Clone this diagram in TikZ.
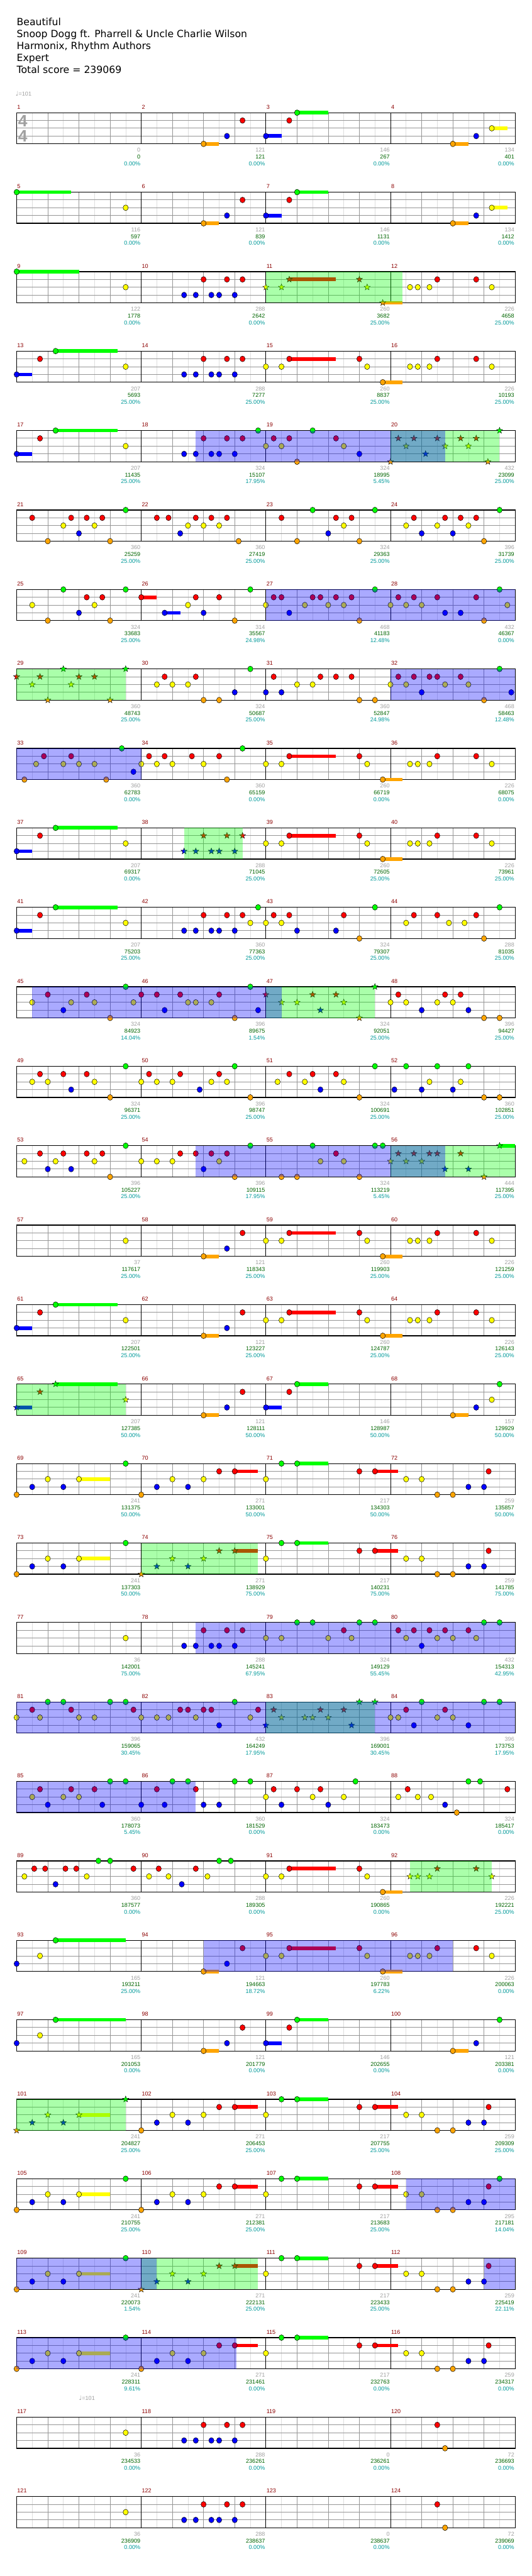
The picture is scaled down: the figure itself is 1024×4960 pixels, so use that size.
\documentclass[tikz,border=0pt]{standalone}
\usepackage{fontspec}
\setmainfont{DejaVu Sans}
\newfontfamily\numfont{Liberation Sans}
\newfontfamily\symfont{DejaVu Sans}
\usetikzlibrary{shapes.geometric}
\definecolor{ln0}{RGB}{0,255,0}
\definecolor{ln1}{RGB}{255,0,0}
\definecolor{ln2}{RGB}{255,255,0}
\definecolor{ln3}{RGB}{0,0,255}
\definecolor{ln4}{RGB}{255,165,0}
\definecolor{mnumc}{RGB}{139,0,0}
\definecolor{grayc}{RGB}{160,160,160}
\definecolor{greenc}{RGB}{0,100,0}
\definecolor{tealc}{RGB}{0,153,153}
\definecolor{gridl}{RGB}{222,222,222}
\definecolor{gridb}{RGB}{150,150,150}
\tikzset{
  notestyle/.style={draw=black,line width=0.6pt},
  starstyle/.style={star,star points=5,star point ratio=2.4,minimum size=12.5pt,inner sep=0pt,draw=black,line width=0.5pt},
  numtxt/.style={font=\numfont\fontsize{11}{12}\selectfont,inner sep=0pt},
  headtxt/.style={font=\fontsize{19}{22}\selectfont,inner sep=0pt,anchor=base west},
  eighthline/.style={draw=gridl,line width=0.8pt},
  beatline/.style={draw=gridb,line width=1pt},
  laneline/.style={draw=gridb,line width=1.2pt},
  barline/.style={draw=black,line width=1pt},
  staffborder/.style={draw=black,line width=1.5pt}
}
\newcommand\notes[2]{%
  \edef\tmplist{#2}%
  \foreach \pos/\lane/\sus in \tmplist {%
    \pgfmathsetmacro\nx{32+\pos*15}%
    \pgfmathsetmacro\ny{217+153*#1+15*\lane}%
    \ifdim\sus pt>0pt \fill[fill=ln\lane] (\nx,\ny-3.5) rectangle ({32+(\pos+\sus)*15},\ny+3.5);\fi
    \draw[notestyle,fill=ln\lane] (\nx,\ny) ellipse [x radius=5,y radius=5.5];
  }}
\newcommand\stars[2]{%
  \edef\tmplist{#2}%
  \foreach \pos/\lane/\sus in \tmplist {%
    \pgfmathsetmacro\nx{32+\pos*15}%
    \pgfmathsetmacro\ny{217+153*#1+15*\lane}%
    \ifdim\sus pt>0pt \fill[fill=ln\lane] (\nx,\ny-3.5) rectangle ({32+(\pos+\sus)*15},\ny+3.5);\fi
    \node[starstyle,fill=ln\lane] at (\nx,\ny) {};
  }}
\newcommand\region[4]{%
  \fill[fill=#4,fill opacity=0.333] ({32+#2*15},{217+153*#1}) rectangle ({32+#3*15},{277+153*#1});}
\newcommand\nums[2]{%
  \foreach \va/\vb/\vc [count=\j] in {#2} {%
    \pgfmathsetmacro\nx{30.5+\j*240}%
    \pgfmathsetmacro\ny{217+153*#1}%
    \node[numtxt,text=grayc,anchor=base east] at (\nx,\ny+76) {\va};
    \node[numtxt,text=greenc,anchor=base east] at (\nx,\ny+89) {\vb};
    \node[numtxt,text=tealc,anchor=base east] at (\nx,\ny+102) {\vc\%};
  }}
\def\PA{21.5/3/0,23/3/0,24/1/0,25/3/0,26/3/0,27/1/0,28/3/0,29/1/0}
\def\PB{32/2/0,34/2/0,35/1/6,44/1/0,45/2/0,47/4/2.5,50.5/2/0,51.5/2/0,53/2/0,54/1/0,59/1/0,61/2/0}
\def\PC{0/3/2,3/1/0,5/0/8,14/2/0}
\def\PDa{0/4/0,2/3/0,4/2/0,6/3/0,8/2/4,14/0/0}
\def\PDb{16/4/0,18/3/0,20/2/0,22/3/0,24/2/0,26/1/0,28/1/3}
\def\PDc{32/2/0,34/0/0,36/0/4,44/1/0,46/1/3,50/2/0,52/2/0,54/4/0,56/4/0,58/3/0,60/3/0,60.6/1/0}
\def\PE{24/4/2,27/3/0,29/1/0}
\def\PF{32/3/2,35/1/0,36/0/4,56/4/2,59/3/0}
\begin{document}
\begin{tikzpicture}[x=1pt,y=-1pt]
\path[use as bounding box] (0,0) rectangle (1024,4960);
% header
\node[headtxt] (title) at (32,49) {Beautiful};
\node[headtxt] (artist) at (32,72) {Snoop Dogg ft. Pharrell \& Uncle Charlie Wilson};
\node[headtxt] (charter) at (32,95) {Harmonix, Rhythm Authors};
\node[headtxt] (diff) at (32,118) {Expert};
\node[headtxt] (total) at (32,141) {Total score = 239069};
\node[anchor=west,inner sep=0pt,text=grayc] (tempoA) at (30,180) {{\symfont\fontsize{12}{12}\selectfont ♩}{\numfont\fontsize{11}{12}\selectfont =101}};
\node[anchor=west,inner sep=0pt,text=grayc] (tempoB) at (152,4617) {{\symfont\fontsize{12}{12}\selectfont ♩}{\numfont\fontsize{11}{12}\selectfont =101}};
% staves
\foreach \k in {0,...,30} {
  \pgfmathsetmacro\Y{217+153*\k}
  \foreach \i in {1,3,...,31} \draw[eighthline] ({32+\i*30},\Y) -- ++(0,60);
  \foreach \i in {1,2,3,5,6,7,9,10,11,13,14,15} \draw[beatline] ({32+\i*60},\Y) -- ++(0,60);
  \foreach \l in {1,2,3} \draw[laneline] (32,\Y+15*\l) -- (992,\Y+15*\l);
  \foreach \i in {1,2,3} \draw[barline] ({32+\i*240},\Y) -- ++(0,60);
  \draw[staffborder] (32,\Y) rectangle (992,\Y+60);
  \foreach \j in {0,...,3} {
    \pgfmathtruncatemacro\m{4*\k+\j+1}
    \node[numtxt,text=mnumc,anchor=base west] (m\m) at ({33+\j*240},\Y-7) {\m};
  }
}
\node[text=grayc,inner sep=0pt,font=\numfont\bfseries\fontsize{32}{32}\selectfont] (tsA) at (44,233) {4};
\node[text=grayc,inner sep=0pt,font=\numfont\bfseries\fontsize{32}{32}\selectfont] (tsB) at (44,262) {4};
% notes
\notes{0}{\PE,\PF,61/2/2}
\notes{1}{0/0/7,14/2/0,\PE,\PF,61/2/2}
\notes{2}{0/0/8,14/2/0,\PA,50.5/2/0,51.5/2/0,53/2/0,54/1/0,59/1/0,61/2/0}
\stars{2}{32/2/0,34/2/0,35/1/6,44/1/0,45/2/0,47/4/2.5}
\notes{3}{\PC,\PA,\PB}
\notes{4}{\PC,\PA,31/0/0,32/2/0,33/1/0,34/2/0,35/1/0,36/4/0,38/0/0,41/1/0,42/2/0,44/3/0}
\stars{4}{48/4/0,49/1/0,50/2/0,51/1/0,52.5/3/0,54/1/0,55/2/0,57/1/0,58/2/0,59/1/0,60.5/4/0,62/0/0}
\notes{5}{2/1/0,4/4/0,6/2/0,7/1/0,8/3/0,9/1/0,10/2/0,11/1/0,12/4/0,14/0/0,18/1/0,19.5/1/0,21/3/0,22/2/0,23/1/0,24/2/0,25/1/0,26/2/0,27/1/0,28.5/4/0,34/1/0,36/4/0,38/0/0,40/3/0,41/1/0,42/2/0,43/1/0,44/4/0,46/0/0,50/2/0,51/1/0,52/3/0,54/2/0,55/1/0,56/3/0,57/1/0,58/2/0,59/1/0,60/4/0,62/0/0}
\notes{6}{2/2/0,4/4/0,6/0/0,8/3/0,9/1/0,10/2/0,11/1/0,12/4/0,14/0/0,16/1/2,19/3/2,22/2/0,23/1/0,24/3/0,26/1/0,28/4/0,30/0/0,32/2/0,33/1/0,34/1/0,35/3/0,37/2/0,38/1/0,39/1/0,40/2/0,41/1/0,42/2/0,43/1/0,44/4/0,46/0/0,48/2/0,49/1/0,50/2/0,51/1/0,52/2/0,54/1/0,55/3/0,57/3/0,59/1/0,60/4/0,62/0/0,63/2/0}
\stars{7}{0/1/0,2/2/0,3/1/0,4/4/0,6/0/0,7/2/0,8/1/0,10/1/0,12/4/0,14/0/0}
\notes{7}{18/2/0,19/1/0,20/2/0,22/2/0,23/1/0,24/4/0,26/4/0,28/3/0,30/0/0,32/3/0,33/1/0,34/3/0,36/2/0,38/2/0,39/1/0,41/1/0,43/1/0,44/4/0,46/4/0,48/2/0,49/1/0,50/2/0,51/1/0,52/3/0,53/1/0,54/1/0,55/2/0,57/1/0,58/2/0,60/4/0,62/0/0,63.5/3/0}
\notes{8}{1/4/0,2.5/2/0,3.5/1/0,6/2/0,7/1/0,8/2/0,10/2/0,11.5/4/0,13.5/0/0,15/3/0,16/2/0,17/1/0,18/2/0,19/1/0,20/2/0,22.5/1/0,24/2/0,26/1/0,27/4/0,29/0/0,\PB}
\notes{9}{\PC,\PB}
\stars{9}{\PA}
\notes{10}{\PC,\PA,30/2/0,31/0/0,32/2/0,33/1/0,34/2/0,35/1/0,36/3/0,41/3/0,42/1/0,44/4/0,46/0/0,50/2/0,51/1/0,54/1/0,55.5/2/0,57.5/2/0,59/1/0,60/4/0,62/0/0}
\notes{11}{2/2/0,4/1/0,6/3/0,7/2/0,9/1/0,10/2/0,12/4/0,14/0/0,15/2/0,16/1/0,18/1/0,19/3/0,21/1/0,22/2/0,23/2/0,25/2/0,26/1/0,28/4/0,30/0/0,31/3/0,48/2/0,49/1/0,50/2/0,52/3/0,54/2/0,55/1/0,56/2/0,57/1/0,58/3/0,60/4/0,62/4/0}
\stars{11}{32/1/0,34/2/0,36/2/0,38/1/0,39/3/0,41/1/0,42/2/0,44/4/0,46/0/0}
\notes{12}{2/2/0,3/1/0,4/2/0,6/1/0,7/3/0,9/1/0,10/2/0,12/4/0,14/0/0,16/2/0,17/1/0,18/2/0,20/2/0,21/1/0,23.5/3/0,25/2/0,26/1/0,27/2/0,28/0/0,30/4/0,33.5/2/0,35/1/0,37/2/0,38/1/0,39/3/0,41/1/0,42/2/0,44/4/0,46/0/0,48.5/3/0,50/0/0,52/3/0,53/2/0,54/0/0,56/3/0,57/2/0,58/0/0,60/4/0,62/4/0}
\notes{13}{1/2/0,3/1/0,4/3/0,5/2/0,6/1/0,7/3/0,9/1/0,10/2/0,11/1/0,12/4/0,14/0/0,16/2/0,18/2/0,20/2/0,21/1/0,23/1/0,24/3/0,25/1/0,26/2/0,27/1/0,28/4/0,30/0/0,34/4/0,36/4/0,38/0/0,39/2/0,41/1/0,42/2/0,44/4/0,46/0/0,47/0/0}
\stars{13}{48/2/0,49/1/0,50/2/0,51/1/0,52/2/0,53/1/0,54/1/0,55/3/0,57/1/0,58/3/0,60/4/0,62/0/2}
\notes{14}{14/2/0,\PE,\PB}
\notes{15}{\PC,\PE,\PB}
\stars{16}{\PC}
\notes{16}{\PE,\PF,61/2/0,62/0/0}
\notes{17}{\PDa,\PDb,\PDc}
\notes{18}{\PDa,\PDc}
\stars{18}{\PDb}
\notes{19}{14/2/0,\PA,32/2/0,34/2/0,36/0/0,38/0/0,40/2/0,42/1/0,43/2/0,44/0/0,46/0/0,49/1/0,50/2/0,51/1/0,52/3/0,53/1/0,54/2/0,55/1/0,56/2/0,58/1/0,59/2/0,60/0/0,62/0/0}
\notes{20}{0/2/0,2/1/0,3/2/0,4/0/0,6/0/0,7/1/0,8/2/0,10/2/0,12/0/0,14/0/0,15/1/0,16/2/0,18/2/0,19.5/2/0,21/1/0,22/1/0,23/2/0,24/1/0,25/1/0,26/3/0,28/0/0,30/2/0,31/1/0,48/2/0,49/2/0,50/1/0,51/3/0,52/0/0,54/2/0,55/1/0,56/2/0,58/3/0,60/0/0,62/0/0}
\stars{20}{32/3/0,33/1/0,34/2/0,37/2/0,38/2/0,39/1/0,40/2/0,42/1/0,43/3/0,44/0/0,46/0/0}
\notes{21}{2/2/0,3/1/0,4/3/0,6/2/0,7/1/0,8/2/0,10/1/0,11/3/0,12/0/0,14/0/0,16/3/0,18/1/0,19/3/0,20/0/0,22/0/0,23/1/0,24/3/0,26/3/0,28/0/0,30/0/0,32/2/0,33/1/0,34/3/0,36/1/0,38/2/0,39/1/0,40/3/0,42/2/0,43.5/0/0,49/2/0,50.2/1/0,51.5/2/0,53.2/2/0,55/3/0,56.5/4/0,58/0/0,59.5/0/0,63/1/0}
\notes{22}{1/2/0,2.26/1/0,3.66/1/0,5/3/0,6.27/1/0,7.66/1/0,9/2/0,10.5/0/0,12/0/0,15/1/0,17/2/0,18.24/1/0,19.5/2/0,21.2/3/0,23/1/0,24.5/2/0,26/0/0,27.5/0/0,32/2/0,34/2/0,35/1/6,44/1/0,45/2/0,47/4/2.5}
\stars{22}{50.5/2/0,51.5/2/0,53/2/0,54/1/0,59/1/0,61/2/0}
\notes{23}{0/3/0,3/2/0,5/0/9,\PE,\PB}
\notes{24}{0/3/0,3/2/0,5/0/9,\PE,\PF,62/0/0}
\stars{25}{\PDa}
\notes{25}{\PDb,\PDc}
\notes{26}{\PDa,\PDb,\PDc,62/0/0}
\notes{27}{\PDa,\PDc}
\stars{27}{\PDb}
\notes{28}{\PDa,\PDb,\PDc}
\notes{29}{14/2/0,\PA,54/1/0,55/4/0}
\notes{30}{14/2/0,\PA,54/1/0,55/4/0}
% star power phrases and activations
\region{2}{32}{49.5}{ln0}
\region{4}{48}{62}{ln0}
\region{4}{23}{55}{ln3}
\region{6}{32}{64}{ln3}
\region{7}{0}{14}{ln0}
\region{7}{48}{64}{ln3}
\region{8}{0}{16}{ln3}
\region{9}{21.5}{29}{ln0}
\region{11}{32}{46}{ln0}
\region{11}{2}{34}{ln3}
\region{13}{48}{64}{ln0}
\region{13}{23}{55}{ln3}
\region{16}{0}{14}{ln0}
\region{18}{16}{31}{ln0}
\region{19}{23}{64}{ln3}
\region{20}{32}{46}{ln0}
\region{20}{0}{64}{ln3}
\region{21}{0}{23}{ln3}
\region{22}{50.5}{61}{ln0}
\region{23}{24}{56}{ln3}
\region{25}{0}{14}{ln0}
\region{26}{50}{64}{ln3}
\region{27}{16}{31}{ln0}
\region{27}{0}{18}{ln3}
\region{27}{60}{64}{ln3}
\region{28}{0}{28.2}{ln3}
% scores
\nums{0}{0/0/0.00,121/121/0.00,146/267/0.00,134/401/0.00}
\nums{1}{116/597/0.00,121/839/0.00,146/1131/0.00,134/1412/0.00}
\nums{2}{122/1778/0.00,288/2642/0.00,260/3682/25.00,226/4658/25.00}
\nums{3}{207/5693/25.00,288/7277/25.00,260/8837/25.00,226/10193/25.00}
\nums{4}{207/11435/25.00,324/15107/17.95,324/18995/5.45,432/23099/25.00}
\nums{5}{360/25259/25.00,360/27419/25.00,324/29363/25.00,396/31739/25.00}
\nums{6}{324/33683/25.00,314/35567/24.98,468/41183/12.48,432/46367/0.00}
\nums{7}{360/48743/25.00,324/50687/25.00,360/52847/24.98,468/58463/12.48}
\nums{8}{360/62783/0.00,360/65159/0.00,260/66719/0.00,226/68075/0.00}
\nums{9}{207/69317/0.00,288/71045/25.00,260/72605/25.00,226/73961/25.00}
\nums{10}{207/75203/25.00,360/77363/25.00,324/79307/25.00,288/81035/25.00}
\nums{11}{324/84923/14.04,396/89675/1.54,324/92051/25.00,396/94427/25.00}
\nums{12}{324/96371/25.00,396/98747/25.00,324/100691/25.00,360/102851/25.00}
\nums{13}{396/105227/25.00,396/109115/17.95,324/113219/5.45,444/117395/25.00}
\nums{14}{37/117617/25.00,121/118343/25.00,260/119903/25.00,226/121259/25.00}
\nums{15}{207/122501/25.00,121/123227/25.00,260/124787/25.00,226/126143/25.00}
\nums{16}{207/127385/50.00,121/128111/50.00,146/128987/50.00,157/129929/50.00}
\nums{17}{241/131375/50.00,271/133001/50.00,217/134303/50.00,259/135857/50.00}
\nums{18}{241/137303/50.00,271/138929/75.00,217/140231/75.00,259/141785/75.00}
\nums{19}{36/142001/75.00,288/145241/67.95,324/149129/55.45,432/154313/42.95}
\nums{20}{396/159065/30.45,432/164249/17.95,396/169001/30.45,396/173753/17.95}
\nums{21}{360/178073/5.45,360/181529/0.00,324/183473/0.00,324/185417/0.00}
\nums{22}{360/187577/0.00,288/189305/0.00,260/190865/0.00,226/192221/25.00}
\nums{23}{165/193211/25.00,121/194663/18.72,260/197783/6.22,226/200063/0.00}
\nums{24}{165/201053/0.00,121/201779/0.00,146/202655/0.00,121/203381/0.00}
\nums{25}{241/204827/25.00,271/206453/25.00,217/207755/25.00,259/209309/25.00}
\nums{26}{241/210755/25.00,271/212381/25.00,217/213683/25.00,295/217181/14.04}
\nums{27}{241/220073/1.54,271/222131/25.00,217/223433/25.00,259/225419/22.11}
\nums{28}{241/228311/9.61,271/231461/0.00,217/232763/0.00,259/234317/0.00}
\nums{29}{36/234533/0.00,288/236261/0.00,0/236261/0.00,72/236693/0.00}
\nums{30}{36/236909/0.00,288/238637/0.00,0/238637/0.00,72/239069/0.00}
\end{tikzpicture}
\end{document}
